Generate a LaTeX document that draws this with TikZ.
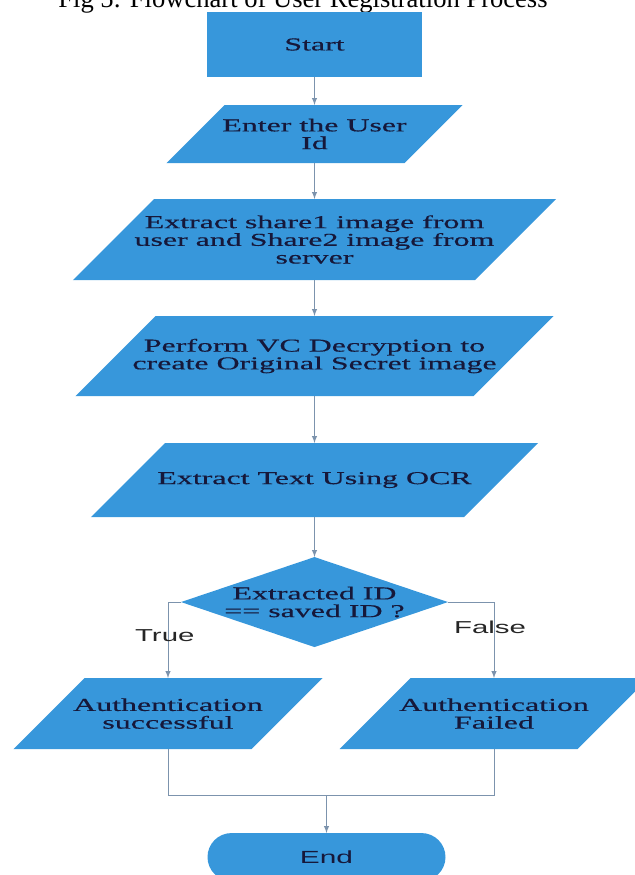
\documentclass[tikz,border=0pt]{standalone}
\usepackage{fontspec}
\setmainfont{Liberation Serif}
\newfontfamily\flowserif[FakeStretch=1.76,FakeBold=0.5]{Liberation Serif}
\newfontfamily\flowsans[FakeStretch=1.7]{Liberation Sans}
\usetikzlibrary{positioning,shapes.geometric}
\definecolor{FlowBlue}{HTML}{3797DB}
\definecolor{FlowLine}{HTML}{7C93AD}
\definecolor{FlowInk}{HTML}{16183A}

\begin{document}
\begin{tikzpicture}[
    pbox/.style={trapezium,trapezium left angle=45,trapezium right angle=135,
      fill=FlowBlue,outer sep=0pt},
    ptext/.style={text=FlowInk,align=center,
      font=\flowserif\fontsize{12.9}{12.6}\selectfont},
    sbox/.style={rectangle,fill=FlowBlue,minimum width=5.375cm,
      minimum height=1.625cm,outer sep=0pt,ptext},
    decide/.style={diamond,fill=FlowBlue,inner sep=0pt,outer sep=0pt,
      minimum width=6.675cm,minimum height=2.25cm},
    term/.style={rectangle,rounded corners=0.6cm,fill=FlowBlue,
      minimum width=5.95cm,minimum height=1.2cm,outer sep=0pt,text=FlowInk,
      font=\flowsans\fontsize{12.5}{15}\selectfont},
    branch/.style={text=black!85,inner sep=0pt,
      font=\flowsans\fontsize{12.3}{15}\selectfont},
    line/.style={draw=FlowLine,line width=0.7pt},
    arrow/.style={line,-latex}
  ]
    \useasboundingbox (0,0) rectangle (15.875,-21.875);
    \node[font=\fontsize{18.9}{22}\selectfont,anchor=base] (title) at (7.575,-0.18)
      {Fig 5: Flowchart of User Registration Process};
    \node[sbox] (start) at (7.8625,-1.1125) {Start};
    \node[pbox,inner xsep=2.25cm,inner ysep=0.725cm,below=0.7cm of start,
      label={[ptext]center:{Enter the User\\Id}}] (user) {};
    \node[pbox,inner xsep=4.0125cm,inner ysep=1.0125cm,below=0.9cm of user,
      label={[ptext]center:{Extract share1 image from\\user and Share2 image from\\server}}] (shares) {};
    \node[pbox,inner xsep=3.975cm,inner ysep=1cm,below=0.9cm of shares,
      label={[ptext]center:{Perform VC Decryption to\\create Original Secret image}}] (decrypt) {};
    \node[pbox,inner xsep=3.7375cm,inner ysep=0.925cm,below=1.175cm of decrypt,
      label={[ptext]center:{Extract Text Using OCR}}] (ocr) {};
    \node[decide,below=1cm of ocr,
      label={[ptext]center:{Extracted ID\\== saved ID ?}}] (check) {};
    \node[pbox,inner xsep=2.0875cm,inner ysep=0.8875cm,below=1.9cm of check.west,
      xshift=-0.325cm,label={[ptext]center:{Authentication\\successful}}] (ok) {};
    \node[pbox,inner xsep=2.0875cm,inner ysep=0.8875cm,below=1.9cm of check.east,
      xshift=1.15cm,label={[ptext]center:{Authentication\\Failed}}] (fail) {};
    \node[term,below=4.65cm of check,xshift=0.3cm] (end) {End};
    \coordinate[above=0.95cm of end.north] (merge);
    \draw[arrow] (start) -- (user);
    \draw[arrow] (user) -- (shares);
    \draw[arrow] (shares) -- (decrypt);
    \draw[arrow] (decrypt) -- (ocr);
    \draw[arrow] (ocr) -- (check);
    \draw[arrow] (check.west) -| node[branch,pos=0.72,xshift=-0.08cm] (ltrue) {True} (ok.north);
    \draw[arrow] (check.east) -| node[branch,pos=0.665,xshift=-0.1cm] (lfalse) {False} (fail.north);
    \draw[line] (ok.south) |- (merge) -| (fail.south);
    \draw[arrow] (merge) -- (end);
  \end{tikzpicture}
\end{document}
